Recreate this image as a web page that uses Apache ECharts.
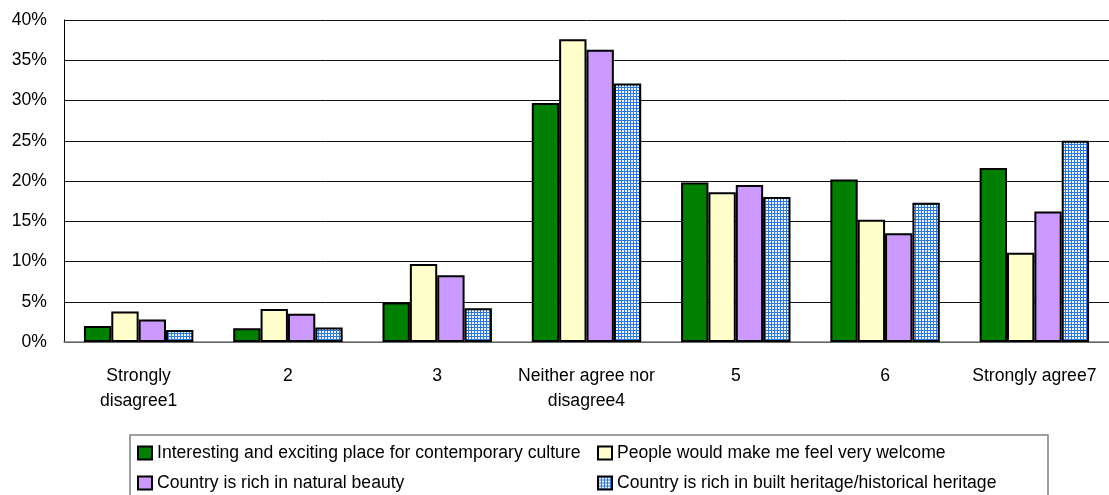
<!DOCTYPE html>
<html>
<head>
<meta charset="utf-8">
<script src="https://cdn.jsdelivr.net/npm/echarts@6/dist/echarts.min.js"></script>
<style>
  html, body { margin: 0; padding: 0; background: #fff; }
  #chart { width: 1109px; height: 495px; }
</style>
</head>
<body>
<div id="chart"></div>
<script>
// Survey responses (% of respondents) on a 7-point agreement scale
const categories = [
  'Strongly\ndisagree1', '2', '3', 'Neither agree nor\ndisagree4', '5', '6', 'Strongly agree7'
];
const seriesNames = [
  'Interesting and exciting place for contemporary culture',
  'People would make me feel very welcome',
  'Country is rich in natural beauty',
  'Country is rich in built heritage/historical heritage'
];
const contemporaryCulture = [2.0, 1.7, 4.9, 29.7, 19.8, 20.2, 21.6];
const feelWelcome        = [3.8, 4.1, 9.7, 37.6, 18.6, 15.2, 11.1];
const naturalBeauty      = [2.8, 3.5, 8.3, 36.3, 19.5, 13.5, 16.2];
const builtHeritage      = [1.5, 1.8, 4.2, 32.1, 18.0, 17.3, 25.0];
const yTicks = { min: 0, max: 40, interval: 5 };

// small blue grid tile for the heritage bars
function gridTile() {
  const c = document.createElement('canvas');
  c.width = 3; c.height = 3;
  const g = c.getContext('2d');
  g.fillStyle = '#eef5ff';
  g.fillRect(0, 0, 3, 3);
  g.fillStyle = '#2a78e0';
  g.fillRect(0, 0, 3, 1);
  g.fillRect(0, 0, 1, 3);
  return c;
}

const font = '"Liberation Sans", Arial, sans-serif';
const fontSize = 17.6;
const fills = ['#008000', '#FFFFCC', '#CC99FF', { image: gridTile(), repeat: 'repeat' }];
const values = [contemporaryCulture, feelWelcome, naturalBeauty, builtHeritage];

const chart = echarts.init(document.getElementById('chart'), null, { renderer: 'canvas' });

const legendPos = [
  { left: 137, top: 444 },
  { left: 597, top: 444 },
  { left: 137, top: 474 },
  { left: 597, top: 474 }
];

chart.setOption({
  animation: false,
  backgroundColor: '#fff',
  grid: { left: 64, top: 20, right: -5, bottom: 153, containLabel: false },
  xAxis: {
    type: 'category',
    data: categories,
    axisLine: { show: true, lineStyle: { color: '#808080', width: 1.5 } },
    axisTick: { show: false },
    axisLabel: {
      interval: 0,
      margin: 22,
      lineHeight: 25,
      fontFamily: font,
      fontSize: fontSize,
      color: '#000'
    },
    splitLine: { show: false }
  },
  yAxis: {
    type: 'value',
    min: yTicks.min,
    max: yTicks.max,
    interval: yTicks.interval,
    axisLine: { show: true, lineStyle: { color: '#000', width: 1 } },
    axisTick: { show: false },
    axisLabel: {
      formatter: '{value}%',
      margin: 17,
      fontFamily: font,
      fontSize: fontSize,
      color: '#000'
    },
    splitLine: { show: true, lineStyle: { color: '#111', width: 1 } }
  },
  legend: seriesNames.map((name, i) => ({
    data: [name],
    left: legendPos[i].left,
    top: legendPos[i].top,
    orient: 'horizontal',
    padding: 0,
    itemWidth: 14,
    itemHeight: 13,
    icon: 'rect',
    selectedMode: false,
    textStyle: { fontFamily: font, fontSize: fontSize, color: '#000' }
  })),
  graphic: [{
    type: 'rect',
    shape: { x: 130, y: 435, width: 918, height: 90 },
    style: { fill: 'none', stroke: '#808080', lineWidth: 1.5 },
    silent: true
  }],
  series: seriesNames.map((name, i) => ({
    name: name,
    type: 'bar',
    data: values[i],
    barGap: '0%',
    barCategoryGap: '26.7%',
    itemStyle: { color: fills[i], borderColor: '#000', borderWidth: 2 },
    emphasis: { disabled: true }
  }))
});
</script>
</body>
</html>
